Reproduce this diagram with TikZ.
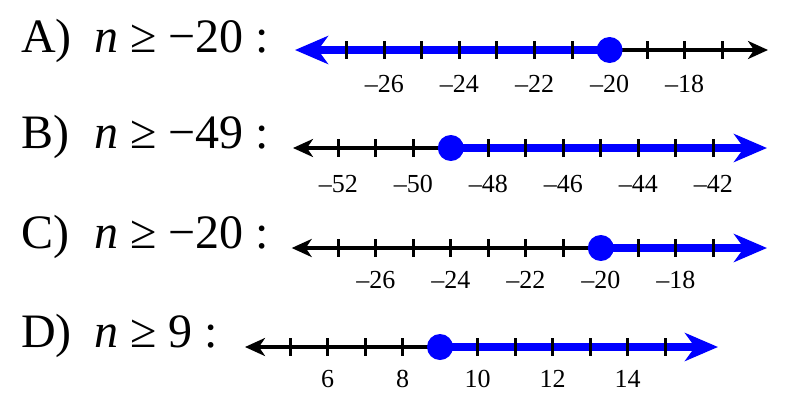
\documentclass[tikz,border=0pt]{standalone}
\usepackage{fontspec}
\setmainfont{Liberation Serif}
\usetikzlibrary{arrows.meta}

\begin{document}
\begin{tikzpicture}[x=1pt, y=-1pt,
    axis/.style={line width=3.3pt, -{Stealth[length=20pt, width=18pt, inset=6pt]}},
    ray/.style={blue, line width=8pt, -{Stealth[length=33pt, width=28pt, inset=10pt]}},
    tick/.style={line width=3pt},
    dot/.style={blue},
    ticklabel/.style={anchor=base, inner sep=0pt, font=\fontsize{26}{30}\selectfont},
    answer/.style={anchor=base west, inner sep=0pt, font=\fontsize{48}{56}\selectfont}]
    \useasboundingbox (0,0) rectangle (796,416);

    % A) n >= -20, shaded to the left
    \node[answer] (letA) at (21,52) {A)};
    \node[answer] (ineqA) at (94,52) {\textit{n} ≥ −20 :};
    \coordinate (aL) at (295,50);
    \coordinate (aR) at (768,50);
    \coordinate (aDot) at (609.6,50);
    \draw[axis] (aDot) -- (aR);
    \draw[ray] (aDot) -- (aL);
    \foreach \k in {-27,...,-17}
        \draw[tick] ({346.7+(\k+27)*37.56},41) -- ++(0,18);
    \foreach \k in {26,24,22,20,18}
        \node[ticklabel] at ({346.7+(27-\k)*37.56},92) {–\k};
    \fill[dot] (aDot) circle (13);

    % B) n >= -49
    \node[answer] (letB) at (21,148) {B)};
    \node[answer] (ineqB) at (94,148) {\textit{n} ≥ −49 :};
    \coordinate (bL) at (293,148);
    \coordinate (bR) at (767,148);
    \coordinate (bDot) at (450.8,148);
    \draw[axis] (bDot) -- (bL);
    \draw[ray] (bDot) -- (bR);
    \foreach \k in {-52,...,-42}
        \draw[tick] ({338.3+(\k+52)*37.5},139) -- ++(0,18);
    \foreach \k in {52,50,48,46,44,42}
        \node[ticklabel] at ({338.3+(52-\k)*37.5},192) {–\k};
    \fill[dot] (bDot) circle (13);

    % C) n >= -20
    \node[answer] (letC) at (21,248) {C)};
    \node[answer] (ineqC) at (94,248) {\textit{n} ≥ −20 :};
    \coordinate (cL) at (291.7,248);
    \coordinate (cR) at (767,248);
    \coordinate (cDot) at (600.8,248);
    \draw[axis] (cDot) -- (cL);
    \draw[ray] (cDot) -- (cR);
    \foreach \k in {-27,...,-17}
        \draw[tick] ({338.3+(\k+27)*37.5},239) -- ++(0,18);
    \foreach \k in {26,24,22,20,18}
        \node[ticklabel] at ({338.3+(27-\k)*37.5},288) {–\k};
    \fill[dot] (cDot) circle (13);

    % D) n >= 9
    \node[answer] (letD) at (21,347) {D)};
    \node[answer] (ineqD) at (94,347) {\textit{n} ≥ 9 :};
    \coordinate (dL) at (245,347);
    \coordinate (dR) at (718,347);
    \coordinate (dDot) at (440,347);
    \draw[axis] (dDot) -- (dL);
    \draw[ray] (dDot) -- (dR);
    \foreach \k in {5,...,15}
        \draw[tick] ({290+(\k-5)*37.5},338) -- ++(0,18);
    \foreach \k in {6,8,...,14}
        \node[ticklabel] at ({290+(\k-5)*37.5},387) {\k};
    \fill[dot] (dDot) circle (13);
\end{tikzpicture}
\end{document}
